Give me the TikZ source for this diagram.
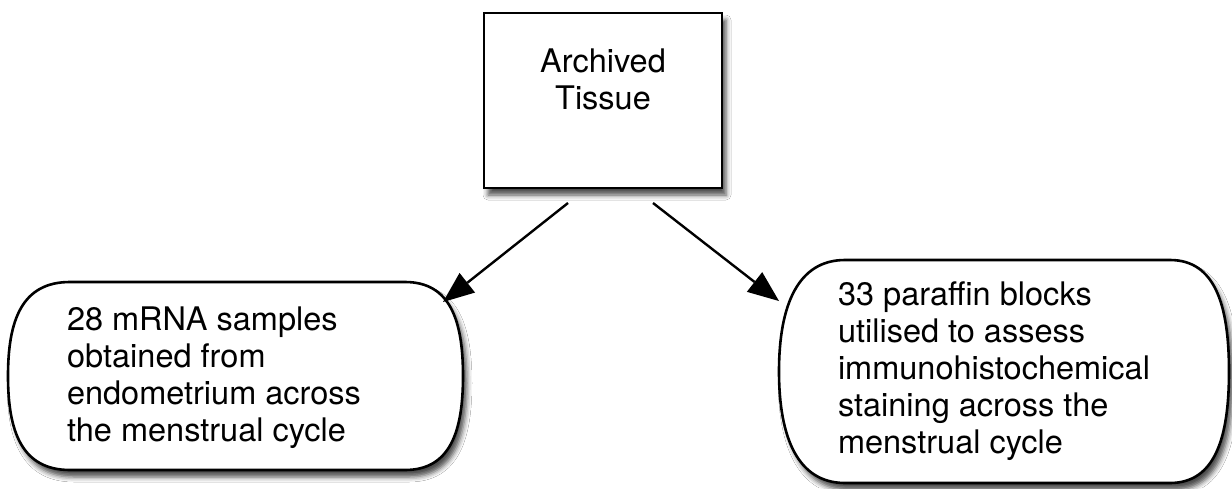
\documentclass[tikz,border=0pt]{standalone}
\usepackage{fontspec}
\setmainfont{TeX Gyre Heros}
\usetikzlibrary{arrows.meta,shadows.blur}
\begin{document}
\begin{tikzpicture}[x=1pt,y=-1pt,
  every node/.style={inner sep=0pt,outer sep=0pt},
  txt/.style={font=\fontsize{32.5}{37}\selectfont,text=black},
  outline/.style={draw=black,line width=2.6pt,fill=white,
    blur shadow={shadow xshift=4pt,shadow yshift=-7pt,shadow blur radius=5pt,shadow opacity=70}},
  arr/.style={draw=black,line width=2.4pt,-{Triangle[length=31pt,width=25pt,fill=black,line width=0pt]}}
]
\useasboundingbox (0,0) rectangle (1232,488);
\fill[white] (0,0) rectangle (1232,488);

% top box
\node[outline,minimum width=238pt,minimum height=175pt] (T) at (603,100.5) {};
\node[txt,align=center,anchor=north] (Ttxt) at (603,49) {Archived\\Tissue};

% left pill
\draw[outline] (70,282) -- (405,282)
  .. controls (450,282) and (463,320) .. (463,376)
  .. controls (463,432) and (450,470) .. (405,470)
  -- (70,470)
  .. controls (22,470) and (8,432) .. (8,376)
  .. controls (8,320) and (22,282) .. (70,282) -- cycle;
\node[txt,align=left,anchor=north west] (L) at (67,307)
  {28 mRNA samples\\obtained from\\endometrium across\\the menstrual cycle};

% right pill
\draw[outline] (845,260) -- (1170,260)
  .. controls (1215,260) and (1229,305) .. (1229,371.5)
  .. controls (1229,438) and (1215,483) .. (1170,483)
  -- (845,483)
  .. controls (798,483) and (779,438) .. (779,371.5)
  .. controls (779,305) and (798,260) .. (845,260) -- cycle;
\node[txt,align=left,anchor=north west] (R) at (838,282)
  {33 paraffin blocks\\utilised to assess\\immunohistochemical\\staining across the\\menstrual cycle};

% connectors
\coordinate (a1) at (568,203);
\coordinate (a2) at (443,302);
\coordinate (b1) at (653,203);
\coordinate (b2) at (779,301);
\draw[arr] (a1) -- (a2);
\draw[arr] (b1) -- (b2);
\end{tikzpicture}
\end{document}
